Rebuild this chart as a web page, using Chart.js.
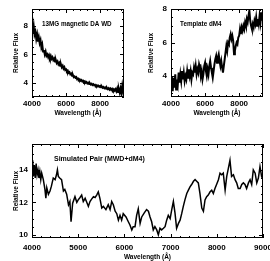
<!DOCTYPE html>
<html>
<head>
<meta charset="utf-8">
<title></title>
<script src="https://cdn.jsdelivr.net/npm/chart.js@4"></script>
<style>
  body { margin: 0; background: #fff; width: 270px; height: 261px; overflow: hidden; position: relative; }
  canvas { position: absolute; }
</style>
</head>
<body>
<canvas id="wdChart" width="135" height="125" style="left:0;top:0"></canvas>
<canvas id="mChart" width="135" height="125" style="left:135px;top:0"></canvas>
<canvas id="pairChart" width="270" height="131" style="left:0;top:130px"></canvas>

<script>
// wavelength grid of the two top spectra (A)
const wlTop = [
  4000, 4050, 4100, 4150, 4200, 4250, 4300, 4350, 4400, 4450,
  4500, 4550, 4600, 4650, 4700, 4750, 4800, 4850, 4900, 4950,
  5000, 5050, 5100, 5150, 5200, 5250, 5300, 5350, 5400, 5450,
  5500, 5550, 5600, 5650, 5700, 5750, 5800, 5850, 5900, 5950,
  6000, 6050, 6100, 6150, 6200, 6250, 6300, 6350, 6400, 6450,
  6500, 6550, 6600, 6650, 6700, 6750, 6800, 6850, 6900, 6950,
  7000, 7050, 7100, 7150, 7200, 7250, 7300, 7350, 7400, 7450,
  7500, 7550, 7600, 7650, 7700, 7750, 7800, 7850, 7900, 7950,
  8000, 8050, 8100, 8150, 8200, 8250, 8300, 8350, 8400, 8450,
  8500, 8550, 8600, 8650, 8700, 8750, 8800, 8850, 8900, 8950,
  9000, 9050, 9100, 9150, 9200, 9250, 9300, 9350, 9400
];

// 13MG magnetic DA white dwarf
const fluxWD = [
  7.9, 7.5, 8.0, 7.4, 7.6, 7.1, 7.4, 6.9, 7.2, 6.8,
  7.0, 6.5, 6.7, 6.2, 6.3, 6.0, 6.2, 5.9, 6.0, 5.8,
  5.95, 5.75, 5.9, 5.7, 5.8, 5.6, 5.7, 5.5, 5.6, 5.4,
  5.5, 5.3, 5.4, 5.2, 5.3, 5.1, 5.2, 5.0, 5.1, 4.9,
  4.95, 4.8, 4.85, 4.7, 4.75, 4.6, 4.65, 4.5, 4.55, 4.4,
  4.45, 4.35, 4.4, 4.25, 4.3, 4.2, 4.25, 4.15, 4.2, 4.1,
  4.15, 4.05, 4.1, 4.0, 4.05, 3.95, 4.0, 3.92, 3.97, 3.88,
  3.93, 3.85, 3.9, 3.82, 3.86, 3.78, 3.83, 3.75, 3.8, 3.72,
  3.77, 3.68, 3.74, 3.65, 3.7, 3.62, 3.67, 3.58, 3.64, 3.55,
  3.62, 3.52, 3.6, 3.5, 3.58, 3.47, 3.55, 3.45, 3.55, 3.4,
  3.6, 3.35, 3.55, 3.3, 3.6, 3.3, 3.8, 3.4, 4.0
];

// template dM4
const fluxDM4 = [
  3.4, 4.0, 3.1, 3.9, 3.3, 4.1, 3.2, 3.8, 3.5, 4.2,
  3.6, 4.1, 3.7, 4.3, 3.8, 4.2, 3.7, 4.0, 3.8, 4.3,
  3.9, 4.4, 4.0, 4.3, 3.8, 4.2, 4.1, 4.5, 4.2, 4.6,
  4.1, 4.4, 4.2, 4.7, 4.5, 4.0, 4.3, 3.8, 4.1, 4.6,
  4.8, 4.3, 4.0, 4.4, 4.1, 4.6, 4.9, 4.5, 4.2, 3.9,
  4.3, 4.7, 5.0, 5.2, 4.8, 5.1, 5.3, 4.9, 4.6, 4.9,
  4.5, 4.2, 4.6, 5.0, 5.4, 5.8, 5.5, 6.0, 5.9, 6.3,
  6.5, 6.2, 6.4, 6.1, 5.3, 5.5, 5.8, 6.0, 5.9, 6.3,
  6.4, 6.8, 6.5, 6.9, 6.7, 7.0, 6.8, 7.2, 7.0, 7.4,
  7.2, 7.6, 7.9, 7.3, 7.0, 6.8, 7.1, 6.9, 7.3, 7.1,
  7.5, 7.0, 7.4, 7.1, 7.6, 7.2, 7.8, 7.3, 7.9
];

// simulated pair (MWD + dM4)
const wlPair = [
  4000, 4015, 4030, 4050, 4070, 4090, 4110, 4130, 4150, 4170,
  4190, 4210, 4245, 4280, 4300, 4320, 4355, 4390, 4420, 4460,
  4500, 4530, 4550, 4570, 4600, 4640, 4680, 4710, 4750, 4790,
  4820, 4845, 4880, 4930, 4970, 5000, 5040, 5075, 5110, 5150,
  5185, 5220, 5255, 5290, 5330, 5365, 5400, 5435, 5470, 5510,
  5545, 5600, 5650, 5690, 5725, 5760, 5800, 5835, 5870, 5905,
  5940, 5975, 6035, 6085, 6120, 6160, 6190, 6230, 6265, 6300,
  6340, 6375, 6430, 6480, 6520, 6555, 6590, 6625, 6660, 6700,
  6735, 6770, 6805, 6845, 6880, 6915, 6950, 6990, 7025, 7060,
  7095, 7130, 7170, 7205, 7240, 7275, 7310, 7350, 7385, 7420,
  7455, 7495, 7530, 7565, 7600, 7635, 7675, 7710, 7745, 7780,
  7815, 7855, 7890, 7925, 7960, 7995, 8035, 8070, 8105, 8140,
  8180, 8215, 8250, 8285, 8320, 8360, 8395, 8430, 8465, 8505,
  8540, 8575, 8610, 8645, 8685, 8720, 8755, 8790, 8830, 8865,
  8900, 8935, 8970, 9000
];
const fluxPair = [
  13.8, 14.6, 13.6, 14.3, 13.5, 14.4, 13.7, 14.0, 13.5, 13.9,
  13.4, 13.8, 13.4, 12.8, 12.25, 12.9, 12.5, 12.7, 13.0, 13.5,
  13.4, 13.7, 14.0, 13.6, 13.5, 13.4, 12.7, 12.8, 12.5, 11.85,
  12.05, 10.8, 11.95, 12.35, 12.0, 12.15, 12.3, 12.45, 12.05, 12.25,
  12.0, 11.75, 12.05, 12.2, 12.35, 12.3, 12.45, 12.65, 12.25, 11.65,
  11.75, 11.55, 11.85, 11.55, 12.05, 11.85, 11.45, 11.3, 10.9, 11.2,
  10.9, 11.3, 11.1, 10.8, 10.6, 10.3, 10.5, 10.5, 11.2, 11.6,
  10.7, 11.1, 11.35, 11.55, 11.45, 11.1, 10.8, 10.3, 10.5, 10.3,
  10.0, 10.4, 10.3, 10.4, 10.5, 10.9, 11.2, 11.0, 11.55, 12.05,
  11.35, 10.4, 10.7, 10.9, 11.3, 11.75, 12.15, 12.55, 12.75, 12.95,
  13.1, 13.3, 13.4, 13.3, 13.2, 12.55, 11.65, 11.45, 12.15, 12.35,
  12.45, 12.65, 12.75, 12.55, 12.85, 13.1, 13.4, 13.8, 13.7, 13.8,
  12.75, 13.6, 14.1, 14.6, 13.6, 13.7, 13.4, 13.2, 12.85, 12.85,
  13.1, 13.2, 13.1, 12.85, 13.2, 13.4, 13.1, 14.0, 13.8, 13.2,
  13.5, 14.2, 13.6, 13.4
];

const xLabelsTop = [4000, 6000, 8000];
const xLabelsPair = [4000, 5000, 6000, 7000, 8000, 9000];
const yLabelsWD = [4, 6, 8];
const yLabelsDM4 = [4, 6, 8];
const yLabelsPair = [10, 12, 14];

const FONT = "'Liberation Sans', Arial, sans-serif";

// frame, inward tick marks on all four sides, and the panel label
const frameTicks = {
  id: 'frameTicks',
  afterDraw(chart, args, o) {
    const {ctx, chartArea: a, scales: {x, y}} = chart;
    ctx.save();
    ctx.strokeStyle = '#000';
    ctx.lineWidth = 1;
    ctx.strokeRect(a.left + 0.5, a.top + 0.5, a.width - 1, a.height - 1);
    ctx.beginPath();
    const isMajor = (v, m) => Math.abs(v / m - Math.round(v / m)) < 1e-6;
    let start = Math.ceil(x.min / o.xMinor - 1e-6);
    for (let i = start; i * o.xMinor <= x.max + 1e-6; i++) {
      const v = i * o.xMinor;
      const px = Math.round(x.getPixelForValue(v)) + 0.5;
      const len = isMajor(v, o.xMajor) ? 4 : 2;
      ctx.moveTo(px, a.bottom); ctx.lineTo(px, a.bottom - len);
      ctx.moveTo(px, a.top); ctx.lineTo(px, a.top + len);
    }
    start = Math.ceil(y.min / o.yMinor - 1e-6);
    for (let i = start; i * o.yMinor <= y.max + 1e-6; i++) {
      const v = i * o.yMinor;
      const py = Math.round(y.getPixelForValue(v)) + 0.5;
      const len = isMajor(v, o.yMajor) ? 4 : 2;
      ctx.moveTo(a.left, py); ctx.lineTo(a.left + len, py);
      ctx.moveTo(a.right, py); ctx.lineTo(a.right - len, py);
    }
    ctx.stroke();
    ctx.fillStyle = '#000';
    ctx.font = 'bold ' + o.labelSize + 'px ' + FONT;
    ctx.textBaseline = 'middle';
    ctx.textAlign = 'left';
    ctx.fillText(o.label, a.left + o.labelDx, a.top + o.labelDy);
    ctx.restore();
  }
};

function makeChart(id, xs, ys, o) {
  const points = xs.map((v, i) => ({x: v, y: ys[i]}));
  return new Chart(document.getElementById(id), {
    type: 'line',
    data: { datasets: [{ data: points, borderColor: '#000', borderWidth: o.lineWidth, pointRadius: 0, tension: 0 }] },
    plugins: [frameTicks],
    options: {
      responsive: false,
      animation: false,
      events: [],
      layout: { padding: { top: o.padTop, right: o.padRight, bottom: 0, left: 0 } },
      plugins: {
        legend: { display: false },
        tooltip: { enabled: false },
        frameTicks: o.frame
      },
      scales: {
        x: {
          type: 'linear', min: o.xMin, max: o.xMax,
          afterBuildTicks: s => { s.ticks = o.xLabels.map(v => ({value: v})); },
          afterFit: s => { s.height = o.xAxisH; s.paddingLeft = 0; s.paddingRight = 0; },
          grid: { display: false, drawTicks: false },
          border: { display: false },
          ticks: { color: '#000', font: { family: FONT, size: 8, weight: 'bold' }, padding: o.xTickPad, maxRotation: 0, autoSkip: false, callback: v => String(v) },
          title: { display: true, text: 'Wavelength (\u00c5)', color: '#000', font: { family: FONT, size: 6.5, weight: 'bold' }, padding: { top: 0, bottom: o.xTitlePad } }
        },
        y: {
          type: 'linear', min: o.yMin, max: o.yMax,
          afterBuildTicks: s => { s.ticks = o.yLabels.map(v => ({value: v})); },
          afterFit: s => { s.width = o.yAxisW; s.paddingTop = 0; s.paddingBottom = 0; },
          grid: { display: false, drawTicks: false },
          border: { display: false },
          ticks: { color: '#000', font: { family: FONT, size: 8, weight: 'bold' }, padding: 4, autoSkip: false, callback: v => String(v) },
          title: { display: true, text: 'Relative Flux', color: '#000', font: { family: FONT, size: 6.5, weight: 'bold' }, padding: { top: 12, bottom: 0 } }
        }
      }
    }
  });
}

makeChart('wdChart', wlTop, fluxWD, {
  lineWidth: 2, padTop: 9, padRight: 11, xMin: 4000, xMax: 9400, yMin: 3, yMax: 9.2,
  xLabels: xLabelsTop, yLabels: yLabelsWD, xAxisH: 28, yAxisW: 32, xTickPad: 1.5, xTitlePad: 8,
  frame: { xMinor: 400, xMajor: 2000, yMinor: 0.5, yMajor: 2, label: '13MG magnetic DA WD', labelSize: 6.3, labelDx: 10, labelDy: 15 }
});

makeChart('mChart', wlTop, fluxDM4, {
  lineWidth: 2, padTop: 9, padRight: 7, xMin: 4000, xMax: 9400, yMin: 2.75, yMax: 8,
  xLabels: xLabelsTop, yLabels: yLabelsDM4, xAxisH: 28, yAxisW: 36, xTickPad: 1.5, xTitlePad: 8,
  frame: { xMinor: 400, xMajor: 2000, yMinor: 0.5, yMajor: 2, label: 'Template dM4', labelSize: 6.3, labelDx: 9, labelDy: 15 }
});

makeChart('pairChart', wlPair, fluxPair, {
  lineWidth: 1.5, padTop: 14, padRight: 7, xMin: 4000, xMax: 9000, yMin: 9.8, yMax: 15.6,
  xLabels: xLabelsPair, yLabels: yLabelsPair, xAxisH: 23, yAxisW: 32, xTickPad: 4.5, xTitlePad: 0,
  frame: { xMinor: 200, xMajor: 1000, yMinor: 0.5, yMajor: 2, label: 'Simulated Pair (MWD+dM4)', labelSize: 7, labelDx: 22, labelDy: 15 }
});
</script>
</body>
</html>
